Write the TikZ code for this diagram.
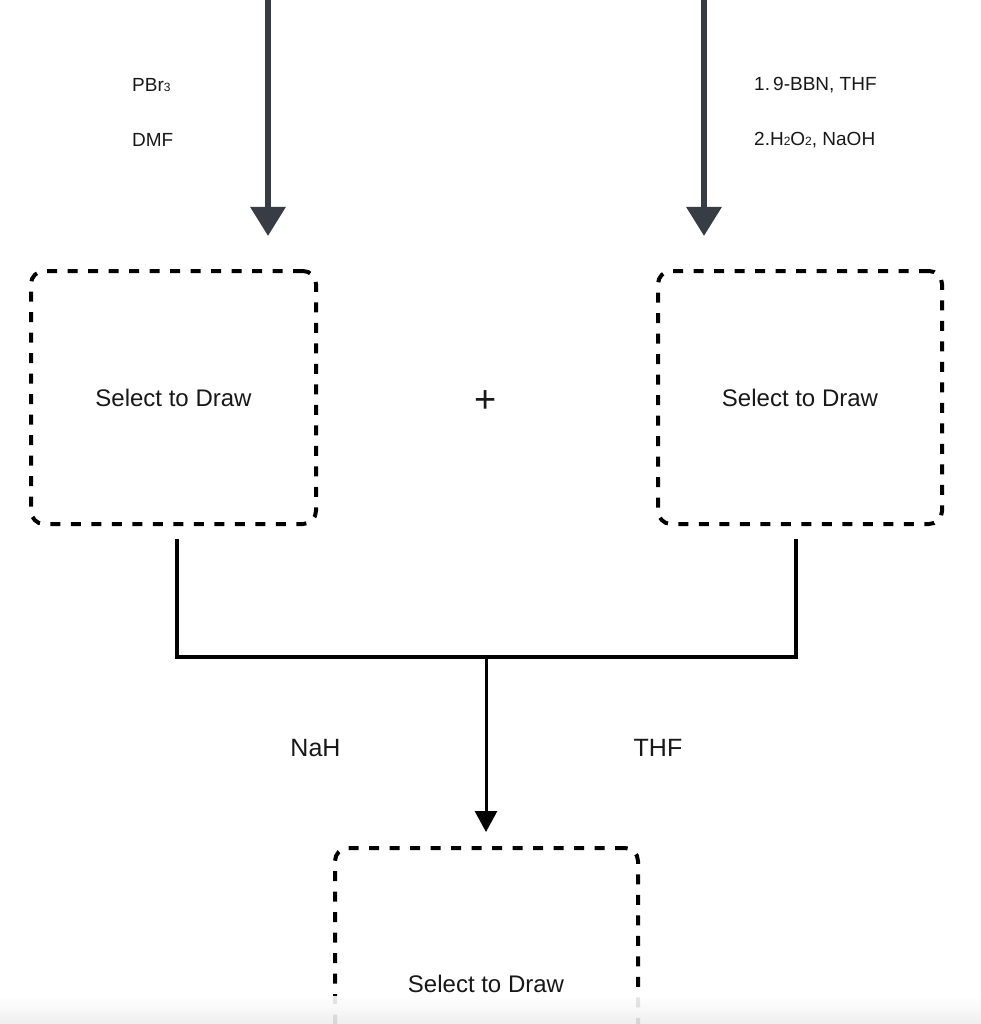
\documentclass[tikz,border=0pt]{standalone}
\usepackage{fontspec}
\setmainfont{Liberation Sans}
\usetikzlibrary{arrows.meta}
\definecolor{arrowgray}{RGB}{56,60,69}
\definecolor{txt}{RGB}{24,24,24}
\newcommand{\lowsub}[1]{\raisebox{-0.5pt}{\fontsize{12}{12}\selectfont #1}}
\begin{document}
\begin{tikzpicture}[x=1pt,y=-1pt,
  dbox/.style={draw=black,line width=4pt,dash pattern=on 10pt off 10.5pt,rounded corners=13pt,minimum width=#1,inner sep=0pt,font=\fontsize{24}{28}\selectfont,text=txt},
  topar/.style={draw=arrowgray,line width=6pt,-{Triangle[width=34pt,length=29pt]}},
  cond/.style={anchor=west,inner sep=0pt,font=\fontsize{19}{22}\selectfont,text=txt},
  cond2/.style={inner sep=0pt,font=\fontsize{25}{30}\selectfont,text=txt},
  bracket/.style={draw=black,line width=4.5pt},
  midar/.style={draw=black,line width=3pt,-{Triangle[width=22pt,length=21pt]}}]
\useasboundingbox (0,0) rectangle (981,1024);
\clip (0,0) rectangle (981,1024);
% top arrows
\coordinate (s1) at (268,-5);
\coordinate (e1) at (268,236);
\coordinate (s2) at (704,-5);
\coordinate (e2) at (704,236);
\draw[topar] (s1) -- (e1);
\draw[topar] (s2) -- (e2);
\node[cond] (pbr) at (132,85) {PBr\lowsub{3}};
\node[cond] (dmf) at (132,140) {DMF};
\node[cond] (bbn) at (754,85) {1.\,9-BBN, THF};
\node[cond] (hoo) at (754,140) {2.H\lowsub{2}O\lowsub{2}, NaOH};
% boxes
\node[dbox=285pt,minimum height=253pt] (b1) at (173.5,397.5) {Select to Draw};
\node[dbox=284pt,minimum height=253pt] (b2) at (800,397.5) {Select to Draw};
\node[inner sep=0pt,font=\fontsize{38}{40}\selectfont,text=txt] (plus) at (486,402) {+};
% bracket
\coordinate (l1) at (177,539);
\coordinate (l2) at (177,657);
\coordinate (r1) at (796,539);
\coordinate (r2) at (796,657);
\draw[bracket] (l1) -- (l2) -- (r2) -- (r1);
\coordinate (m1) at (486,659);
\coordinate (m2) at (486,832);
\draw[midar] (m1) -- (m2);
\node[cond2] (nah) at (315.5,748) {NaH};
\node[cond2] (thf) at (658,748) {THF};
% bottom box
\node[dbox=303pt,minimum height=253pt] (b3) at (486.5,974.5) {};
\node[inner sep=0pt,font=\fontsize{24}{28}\selectfont,text=txt] (t3) at (486,984) {Select to Draw};
% bottom fade
\shade[top color=white,bottom color=black!7,opacity=0.9] (0,996) rectangle (981,1024);
\end{tikzpicture}
\end{document}
